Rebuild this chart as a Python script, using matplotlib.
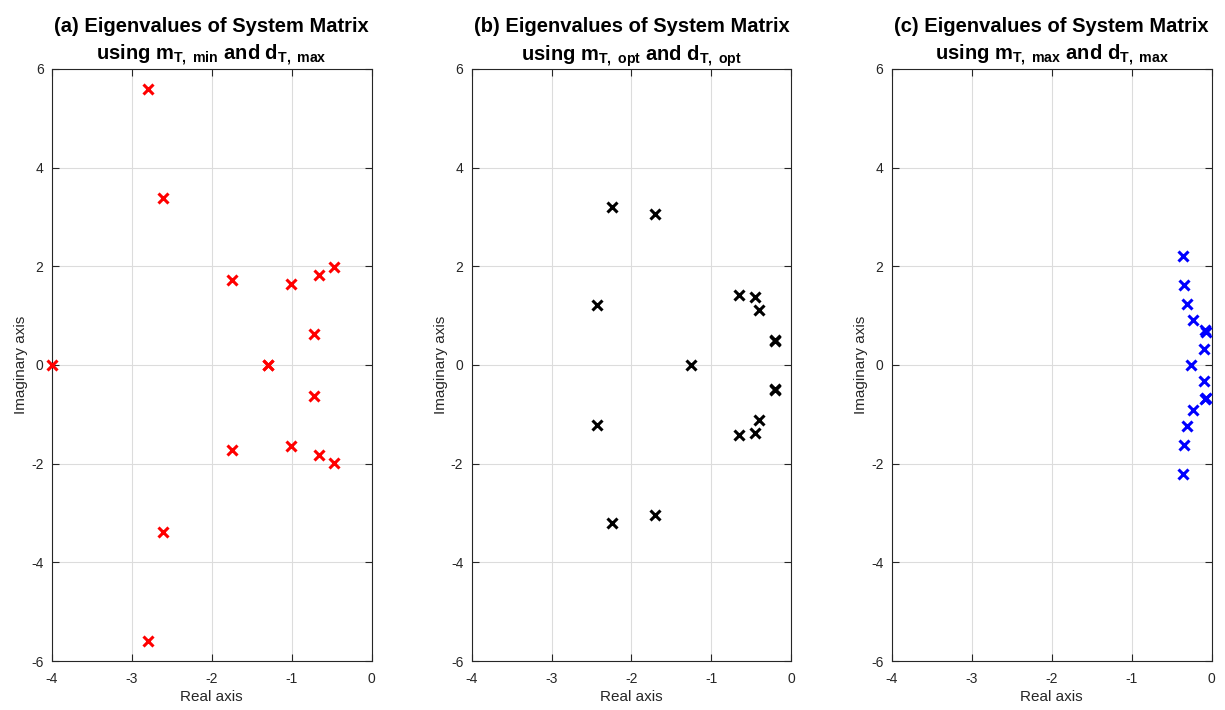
import matplotlib
matplotlib.use("Agg")
import matplotlib.pyplot as plt
import numpy as np

plt.rcParams['font.family'] = ['Liberation Sans', 'DejaVu Sans']
plt.rcParams['mathtext.default'] = 'regular'

# Eigenvalues (upper half; conjugates mirrored below)
re_a = [-4.0, -1.30, -1.30, -2.80, -2.61, -1.75, -1.01, -0.66, -0.47, -0.72]
im_a = [0.0, 0.0, 0.0, 5.60, 3.38, 1.72, 1.65, 1.82, 1.99, 0.63]

re_b = [-1.25, -2.25, -1.70, -2.43, -0.65, -0.45, -0.41, -0.21, -0.21]
im_b = [0.0, 3.21, 3.05, 1.22, 1.42, 1.37, 1.11, 0.49, 0.51]

re_c = [-0.26, -0.36, -0.34, -0.31, -0.23, -0.07, -0.08, -0.10]
im_c = [0.0, 2.21, 1.62, 1.24, 0.91, 0.67, 0.70, 0.33]

titles = [r"(a) Eigenvalues of System Matrix" "\n" r"using m$_{T,\;min}$ and d$_{T,\;max}$",
          r"(b) Eigenvalues of System Matrix" "\n" r"using m$_{T,\;opt}$ and d$_{T,\;opt}$",
          r"(c) Eigenvalues of System Matrix" "\n" r"using m$_{T,\;max}$ and d$_{T,\;max}$"]
colors = ["#ff0000", "#000000", "#0000ff"]
data = [(re_a, im_a), (re_b, im_b), (re_c, im_c)]

fig = plt.figure(figsize=(12.25, 7.1), dpi=100)
lefts = [0.0424, 0.385, 0.728]
for i in range(3):
    ax = fig.add_axes([lefts[i], 0.069, 0.261, 0.834])
    re, im = data[i]
    re = np.array(re)
    im = np.array(im)
    # mirror the complex-conjugate pairs
    mask = im != 0
    re_all = np.concatenate([re, re[mask]])
    im_all = np.concatenate([im, -im[mask]])
    ax.plot(re_all, im_all, 'x', color=colors[i], markersize=7.5, mew=2.2, clip_on=False, zorder=3)
    ax.set_xlim(-4, 0)
    ax.set_ylim(-6, 6)
    ax.set_xticks([-4, -3, -2, -1, 0])
    ax.set_yticks([-6, -4, -2, 0, 2, 4, 6])
    ax.set_xticklabels(['-4', '-3', '-2', '-1', '0'])
    ax.set_yticklabels(['-6', '-4', '-2', '0', '2', '4', '6'])
    ax.grid(True, color='#dcdcdc', linewidth=0.8)
    ax.set_axisbelow(True)
    ax.tick_params(direction='in', top=True, right=True, labelsize=10, colors='#262626',
                   length=5, width=0.8)
    ax.tick_params(axis='x', pad=8)
    ax.tick_params(axis='y', pad=6)
    for s in ax.spines.values():
        s.set_color('#262626')
        s.set_linewidth(0.8)
    ax.set_xlabel("Real axis", fontsize=11, color='#262626', labelpad=3)
    ax.set_ylabel("Imaginary axis", fontsize=11, color='#262626', labelpad=2)
    ax.set_title(titles[i], fontsize=14.5, fontweight='bold', linespacing=1.4, pad=6)

fig.savefig("out.png", dpi=100)
